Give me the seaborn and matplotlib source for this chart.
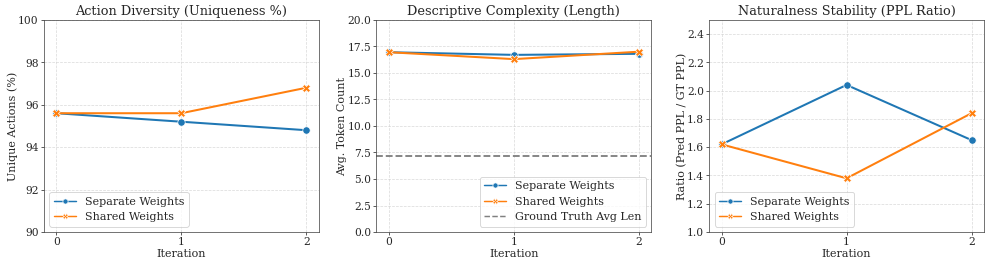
import pandas as pd
import seaborn as sns
import numpy as np
import matplotlib.pyplot as plt

iterations = [0, 1, 2]
models = ['Separate Weights', 'Shared Weights']

# uniqueness %
uniq_separate = [95.6, 95.2, 94.8]
uniq_shared = [95.6, 95.6, 96.8]

# avg token count
len_separate = [16.95, 16.7, 16.8]
len_shared = [16.95, 16.3, 17.0]
gt_avg_len = 7.2

# ppl ratio
ppl_separate = [1.62, 2.04, 1.65]
ppl_shared = [1.62, 1.38, 1.84]

def make_df(sep, shr):
    return pd.DataFrame({
        'Iteration': iterations * 2,
        'value': sep + shr,
        'Model': [models[0]] * 3 + [models[1]] * 3,
    })

sns.set_style('ticks')
plt.rcParams['font.family'] = ['DejaVu Serif']

fig, axes = plt.subplots(1, 3, figsize=(15, 4.04), dpi=66.4)
fig.subplots_adjust(left=0.044, right=0.988, top=0.925, bottom=0.134, wspace=0.21)

panels = [
    (uniq_separate, uniq_shared, 'Action Diversity (Uniqueness %)', 'Unique Actions (%)', (90, 100), np.arange(90, 100.1, 2)),
    (len_separate, len_shared, 'Descriptive Complexity (Length)', 'Avg. Token Count', (0, 20), np.arange(0, 20.1, 2.5)),
    (ppl_separate, ppl_shared, 'Naturalness Stability (PPL Ratio)', 'Ratio (Pred PPL / GT PPL)', (1.0, 2.5), np.arange(1.0, 2.41, 0.2)),
]

for i, (ax, (sep, shr, title, ylabel, ylim, yt)) in enumerate(zip(axes, panels)):
    df = make_df(sep, shr)
    sns.lineplot(data=df, x='Iteration', y='value', hue='Model', style='Model',
                 markers=['o', 'X'], dashes=False, markersize=8, linewidth=2.2, ax=ax)
    if i == 1:
        ax.axhline(gt_avg_len, color='gray', linestyle='--', linewidth=2, label='Ground Truth Avg Len')
    ax.set_title(title, fontsize=14)
    ax.set_xlabel('Iteration', fontsize=12, labelpad=2)
    ax.set_ylabel(ylabel, fontsize=12, labelpad=0)
    ax.set_ylim(*ylim)
    ax.set_yticks(yt)
    ax.set_xticks(iterations)
    ax.tick_params(labelsize=11.5, pad=2)
    ax.grid(True, linestyle='--', alpha=0.7)
    for s in ax.spines.values():
        s.set_color('#444444')
    loc = 'lower right' if i == 1 else 'lower left'
    leg = ax.legend(loc=loc, fontsize=12, title=None, markerscale=0.7)
    for h in leg.legend_handles:
        h.set_linewidth(1.6)

plt.savefig('out.png', dpi=66.4)
